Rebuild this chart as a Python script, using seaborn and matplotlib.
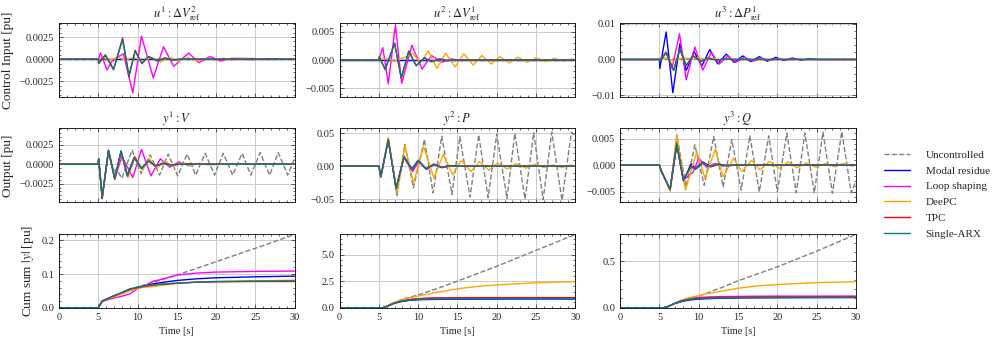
import matplotlib
matplotlib.use("Agg")
import matplotlib.pyplot as plt
from matplotlib.lines import Line2D
from matplotlib.ticker import MultipleLocator, AutoMinorLocator
import seaborn as sns


# ---------------- SERIES / STYLE ----------------
names = ["Uncontrolled", "Modal residue", "Loop shaping", "DeePC", "TPC", "Single-ARX"]
colors = ["#808080", "#0000ff", "#ff00ff", "#ffa500", "#ff0000", "#008080"]
styles = ["--", "-", "-", "-", "-", "-"]

col_titles_u = [r"$u^1: \Delta V_{\mathrm{ref}}^2$", r"$u^2: \Delta V_{\mathrm{ref}}^1$", r"$u^3: \Delta P_{\mathrm{ref}}^1$"]
col_titles_y = [r"$y^1: V$", r"$y^2: P$", r"$y^3: Q$"]
row_labels = ["Control Input [pu]", "Output [pu]", r"Cum sum $|y|$ [pu]"]

zero_t = [0, 30]
zero_v = [0, 0]

# ---------------- u1 ----------------
u1_mag_t = [0, 5.0, 5.3, 5.6, 6.1, 6.7, 7.4, 8.2, 9.4, 10.5, 12.0, 13.3, 14.6, 16.5, 17.8, 19.2, 20.5, 22.0, 30]
u1_mag_v = [0, 0, 0.0007, 0.0, -0.0012, -0.0003, 0.0002, 0.0006, -0.0038, 0.0026, -0.0021, 0.0014, -0.0008, 0.0007, -0.0004, 0.0003, -0.0002, 0.0001, 0]
u1_arx_t = [0, 5.0, 5.05, 5.9, 6.95, 8.1, 8.9, 9.7, 10.55, 11.4, 12.5, 13.5, 14.5, 15.5, 30]
u1_arx_v = [0, 0, -0.0004, 0.0005, -0.0011, 0.0022, -0.0018, 0.0009, -0.0005, 0.0003, -0.0002, 0.00015, -0.0001, 0, 0]
u1_tpc_v = [0, 0, -0.0005, 0.0004, -0.0012, 0.0024, -0.0020, 0.0010, -0.0005, 0.0003, -0.0002, 0.0001, -0.0001, 0, 0]
u1_dee_t = [0, 5.0, 5.6, 6.5, 7.5, 8.4, 9.5, 10.7, 11.8, 12.9, 14.1, 15.2, 16.4, 17.5, 18.7, 19.8, 21.0, 22.1, 23.3, 24.4, 25.6, 26.7, 28.0, 30]
u1_dee_v = [0, 0, 0.0001, -0.0001, 0.0002, -0.0001, 0.0002, -0.0002, 0.0002, -0.0003, 0.0002, -0.0002, 0.0002, -0.0002, 0.0001, -0.0001, 0.0001, -0.0001, 0.0001, -0.0001, 0.00005, -0.00005, 0, 0]

# ---------------- u2 ----------------
u2_mag_t = [0, 5.0, 5.5, 6.2, 7.1, 7.9, 9.2, 10.5, 11.7, 13.0, 14.2, 15.5, 17.0, 30]
u2_mag_v = [0, 0, 0.0022, -0.0042, 0.0061, -0.0041, 0.0026, -0.0016, 0.0008, -0.0004, 0.0002, -0.0001, 0, 0]
u2_arx_t = [0, 5.0, 5.05, 5.8, 7.0, 7.85, 8.8, 9.75, 10.8, 11.7, 12.7, 13.7, 15.0, 30]
u2_arx_v = [0, 0, 0.0005, -0.0016, 0.0029, -0.0031, 0.0015, -0.0010, 0.0004, -0.0003, 0.0002, -0.0001, 0, 0]
u2_tpc_v = [0, 0, 0.0006, -0.0017, 0.0030, -0.0032, 0.0016, -0.0010, 0.0004, -0.0003, 0.0002, -0.0001, 0, 0]
u2_dee_t = [0, 5.0, 5.8, 7.0, 8.2, 9.3, 10.3, 11.3, 12.4, 13.5, 14.7, 15.8, 17.0, 18.1, 19.3, 20.4, 21.6, 22.7, 23.9, 25.0, 26.2, 27.3, 28.5, 29.6, 30]
u2_dee_v = [0, 0, 0.0003, -0.0002, 0.0004, 0.0012, -0.0005, 0.0016, -0.0015, 0.0012, -0.0012, 0.0011, -0.0009, 0.0008, -0.0007, 0.0006, -0.0005, 0.0005, -0.0004, 0.0004, -0.0003, 0.0003, -0.0002, 0.0002, 0]

# ---------------- u3 ----------------
u3_mod_t = [0, 5.0, 5.05, 5.85, 6.7, 7.6, 8.4, 9.4, 10.4, 11.4, 12.4, 13.5, 14.5, 15.6, 16.6, 17.7, 18.7, 19.8, 20.8, 21.9, 23.0, 24.0, 25.5, 30]
u3_mod_v = [0, 0, -0.0025, 0.0077, -0.0093, 0.0044, -0.0031, 0.0022, -0.0018, 0.0028, -0.0012, 0.0015, -0.0008, 0.0010, -0.0006, 0.0008, -0.0005, 0.0006, -0.0003, 0.0004, -0.0002, 0.0002, 0, 0]
u3_mag_t = [0, 5.0, 5.85, 6.6, 7.55, 8.4, 9.5, 10.5, 11.6, 12.6, 13.7, 14.7, 15.8, 16.9, 17.9, 19.0, 20.0, 21.0, 22.0, 23.5, 30]
u3_mag_v = [0, 0, 0.0020, -0.0025, 0.0072, -0.0057, 0.0035, -0.0030, 0.0019, -0.0013, 0.0010, -0.0008, 0.0006, -0.0005, 0.0004, -0.0003, 0.0002, -0.0001, 0.0001, 0, 0]
u3_arx_t = [0, 5.0, 5.05, 5.85, 6.8, 7.6, 8.4, 9.3, 10.3, 11.2, 12.2, 13.2, 14.5, 30]
u3_arx_v = [0, 0, -0.0005, 0.0019, -0.0030, 0.0028, -0.0016, 0.0010, -0.0005, 0.0004, -0.0002, 0.0001, 0, 0]
u3_tpc_v = [0, 0, -0.0006, 0.0020, -0.0031, 0.0029, -0.0017, 0.0010, -0.0005, 0.0004, -0.0002, 0.0001, 0, 0]
u3_dee_t = [0, 5.0, 5.8, 6.8, 7.8, 8.8, 9.8, 10.8, 11.8, 12.8, 14.0, 15.5, 30]
u3_dee_v = [0, 0, 0.0005, -0.0004, 0.0004, 0.0003, 0.0005, 0.0002, 0.0003, -0.0001, 0.0001, 0, 0]

# ---------------- y1 ----------------
y1_unc_t = [0, 5.0, 5.05, 5.5, 6.3, 7.0, 7.3, 8.0, 9.3, 10.45, 11.6, 12.8, 13.9, 15.1, 16.3, 17.4, 18.6, 19.8, 20.9, 22.1, 23.3, 24.4, 25.6, 26.8, 27.9, 29.1, 30]
y1_unc_v = [0, 0, 0.0007, -0.0044, 0.0017, -0.0010, -0.0006, -0.0018, 0.0018, -0.0012, 0.0012, -0.0014, 0.0013, -0.0015, 0.0013, -0.0014, 0.0014, -0.0014, 0.0014, -0.0014, 0.0014, -0.0014, 0.0015, -0.0014, 0.0015, -0.0014, 0.0008]
y1_t = [0, 5.0, 5.05, 5.5, 6.3, 7.1, 7.9, 8.7, 9.6, 10.5, 11.4, 12.3, 13.3, 14.3, 15.5, 17.0, 30]
y1_mod_v = [0, 0, 0.0007, -0.0044, 0.0017, -0.0019, 0.0016, -0.0014, 0.0009, -0.0006, 0.0005, -0.0003, 0.0002, -0.0001, 0.0001, 0, 0]
y1_tpc_v = [0, 0, 0.0007, -0.0043, 0.0018, -0.0019, 0.0017, -0.0015, 0.0009, -0.0005, 0.0004, -0.0002, 0.0001, -0.0001, 0, 0, 0]
y1_arx_v = [0, 0, 0.0007, -0.0042, 0.0018, -0.0018, 0.0017, -0.0015, 0.0008, -0.0005, 0.0004, -0.0002, 0.0001, -0.0001, 0, 0, 0]
y1_dee_t = [0, 5.0, 5.05, 5.5, 6.3, 7.1, 7.9, 8.8, 9.7, 10.6, 11.5, 12.5, 13.5, 14.5, 15.6, 16.7, 17.8, 19.0, 20.5, 30]
y1_dee_v = [0, 0, 0.0007, -0.0042, 0.0017, -0.0019, 0.0015, -0.0017, 0.0010, -0.0008, 0.0007, -0.0005, 0.0004, -0.0003, 0.0002, -0.0002, 0.0001, -0.0001, 0, 0]
y1_mag_t = [0, 5.0, 5.05, 5.5, 6.3, 7.1, 8.0, 9.4, 10.5, 11.7, 12.9, 14.1, 15.3, 16.5, 17.7, 19.0, 30]
y1_mag_v = [0, 0, 0.0007, -0.0042, 0.0017, -0.0019, 0.0010, -0.0017, 0.0019, -0.0015, 0.0007, -0.0004, 0.0003, -0.0002, 0.0001, 0, 0]

# ---------------- y2 ----------------
y2_unc_t = [0, 5.0, 5.25, 6.2, 7.3, 8.3, 9.4, 10.8, 11.9, 13.0, 14.3, 15.3, 16.6, 17.7, 18.9, 20.0, 21.3, 22.3, 23.6, 24.7, 25.9, 27.0, 28.3, 29.5, 30]
y2_unc_v = [0, 0, -0.016, 0.042, -0.046, 0.033, -0.033, 0.041, -0.041, 0.046, -0.043, 0.045, -0.047, 0.048, -0.048, 0.049, -0.049, 0.050, -0.050, 0.051, -0.051, 0.052, -0.052, 0.052, 0.045]
y2_t = [0, 5.0, 5.25, 6.2, 7.2, 8.2, 9.2, 10.0, 11.0, 12.0, 13.0, 14.0, 15.0, 30]
y2_mod_v = [0, 0, -0.016, 0.041, -0.033, 0.015, -0.004, 0.009, -0.004, 0.003, -0.002, 0.001, 0, 0]
y2_tpc_v = [0, 0, -0.016, 0.040, -0.034, 0.014, -0.005, 0.008, -0.004, 0.003, -0.002, 0.001, 0, 0]
y2_arx_v = [0, 0, -0.016, 0.040, -0.034, 0.015, -0.005, 0.009, -0.004, 0.003, -0.002, 0.001, 0, 0]
y2_mag_t = [0, 5.0, 5.25, 6.2, 7.2, 8.2, 9.3, 10.1, 11.1, 12.1, 13.2, 14.3, 15.5, 30]
y2_mag_v = [0, 0, -0.016, 0.041, -0.033, 0.013, -0.008, 0.008, -0.005, 0.003, -0.002, 0.001, 0, 0]
y2_dee_t = [0, 5.0, 5.25, 6.2, 7.3, 8.3, 9.4, 10.7, 12.0, 13.2, 14.4, 15.5, 16.7, 17.8, 19.0, 20.1, 21.3, 22.5, 23.7, 24.8, 26.0, 27.1, 28.3, 29.4, 30]
y2_dee_v = [0, 0, -0.016, 0.044, -0.041, 0.032, -0.026, 0.030, -0.018, 0.018, -0.013, 0.009, -0.008, 0.007, -0.006, 0.005, -0.004, 0.004, -0.003, 0.003, -0.002, 0.002, -0.002, 0.002, 0.0]

# ---------------- y3 ----------------
y3_unc_t = [0, 5.0, 5.2, 6.35, 7.2, 8.4, 9.5, 10.7, 11.9, 13.1, 14.2, 15.4, 16.5, 17.7, 18.9, 20.0, 21.2, 22.4, 23.5, 24.7, 25.8, 27.0, 28.2, 29.4, 30]
y3_unc_v = [0, 0, -0.0010, -0.0047, 0.0057, -0.0041, 0.0038, -0.0038, 0.0054, -0.0041, 0.0048, -0.0047, 0.0055, -0.0050, 0.0055, -0.0050, 0.0060, -0.0052, 0.0060, -0.0052, 0.0062, -0.0053, 0.0063, -0.0052, -0.0030]
y3_t = [0, 5.0, 5.2, 6.35, 7.2, 8.05, 9.0, 9.6, 10.5, 11.5, 12.5, 13.5, 15.0, 30]
y3_mod_v = [0, 0, -0.0010, -0.0047, 0.0038, -0.0030, 0.0002, -0.0006, 0.0006, -0.0003, 0.0002, -0.0001, 0, 0]
y3_tpc_v = [0, 0, -0.0010, -0.0046, 0.0040, -0.0029, -0.0002, -0.0007, 0.0004, -0.0003, 0.0002, -0.0001, 0, 0]
y3_arx_v = [0, 0, -0.0010, -0.0045, 0.0041, -0.0028, -0.0003, -0.0008, 0.0004, -0.0003, 0.0002, -0.0001, 0, 0]
y3_mag_t = [0, 5.0, 5.2, 6.35, 7.2, 8.05, 9.3, 10.0, 11.0, 12.0, 13.0, 14.0, 15.5, 30]
y3_mag_v = [0, 0, -0.0010, -0.0046, 0.0040, -0.0028, -0.0013, 0.0013, -0.0004, 0.0003, -0.0002, 0.0001, 0, 0]
y3_dee_t = [0, 5.0, 5.2, 6.35, 7.2, 8.3, 9.75, 10.8, 12.1, 13.1, 14.4, 15.5, 16.7, 17.8, 19.0, 20.2, 21.4, 22.5, 23.7, 24.9, 26.1, 27.2, 28.4, 29.5, 30]
y3_dee_v = [0, 0, -0.0010, -0.0049, 0.0055, -0.0047, 0.0025, -0.0025, 0.0030, -0.0022, 0.0013, -0.0012, 0.0009, -0.0009, 0.0007, -0.0006, 0.0006, -0.0005, 0.0004, -0.0004, 0.0003, -0.0003, 0.0003, -0.0002, 0]

# ---------------- cumulative sums ----------------
cum_t = [0, 5.0, 5.5, 6, 7, 8, 9, 10, 11, 12, 13, 15, 17.5, 20, 25, 30]
c1_unc = [0, 0, 0.020, 0.025, 0.035, 0.044, 0.054, 0.062, 0.069, 0.076, 0.083, 0.097, 0.117, 0.137, 0.177, 0.218]
c1_mod = [0, 0, 0.020, 0.025, 0.035, 0.044, 0.054, 0.060, 0.066, 0.071, 0.075, 0.081, 0.086, 0.089, 0.092, 0.094]
c1_mag = [0, 0, 0.018, 0.022, 0.029, 0.034, 0.041, 0.057, 0.066, 0.079, 0.084, 0.097, 0.103, 0.106, 0.108, 0.109]
c1_dee = [0, 0, 0.019, 0.024, 0.033, 0.041, 0.050, 0.058, 0.061, 0.063, 0.066, 0.072, 0.076, 0.078, 0.080, 0.082]
c1_tpc = [0, 0, 0.020, 0.025, 0.035, 0.045, 0.055, 0.060, 0.064, 0.067, 0.070, 0.073, 0.076, 0.077, 0.078, 0.078]
c1_arx = [0, 0, 0.020, 0.025, 0.036, 0.045, 0.056, 0.061, 0.065, 0.068, 0.070, 0.073, 0.076, 0.078, 0.079, 0.080]

c2_unc = [0, 0, 0.0, 0.15, 0.50, 0.80, 1.00, 1.20, 1.45, 1.70, 1.95, 2.50, 3.20, 3.90, 5.40, 6.90]
c2_mod = [0, 0, 0.0, 0.13, 0.42, 0.60, 0.70, 0.75, 0.77, 0.78, 0.79, 0.80, 0.81, 0.81, 0.82, 0.82]
c2_mag = [0, 0, 0.0, 0.13, 0.45, 0.65, 0.78, 0.85, 0.89, 0.91, 0.92, 0.94, 0.95, 0.95, 0.95, 0.95]
c2_dee = [0, 0, 0.0, 0.15, 0.50, 0.78, 0.95, 1.10, 1.25, 1.40, 1.52, 1.78, 2.00, 2.15, 2.35, 2.45]
c2_tpc = [0, 0, 0.0, 0.13, 0.45, 0.65, 0.77, 0.84, 0.88, 0.90, 0.91, 0.93, 0.94, 0.94, 0.94, 0.94]
c2_arx = [0, 0, 0.0, 0.13, 0.43, 0.62, 0.72, 0.78, 0.80, 0.81, 0.82, 0.83, 0.84, 0.84, 0.85, 0.85]

c3_unc = [0, 0, 0.0, 0.010, 0.050, 0.090, 0.110, 0.125, 0.155, 0.190, 0.220, 0.290, 0.365, 0.440, 0.610, 0.790]
c3_mod = [0, 0, 0.0, 0.010, 0.045, 0.070, 0.085, 0.092, 0.097, 0.100, 0.102, 0.105, 0.107, 0.108, 0.109, 0.110]
c3_mag = [0, 0, 0.0, 0.010, 0.050, 0.080, 0.100, 0.110, 0.115, 0.118, 0.120, 0.122, 0.124, 0.125, 0.125, 0.126]
c3_dee = [0, 0, 0.0, 0.010, 0.050, 0.085, 0.110, 0.130, 0.150, 0.165, 0.180, 0.210, 0.235, 0.250, 0.270, 0.280]
c3_tpc = [0, 0, 0.0, 0.010, 0.050, 0.078, 0.095, 0.104, 0.108, 0.110, 0.112, 0.114, 0.115, 0.116, 0.116, 0.117]
c3_arx = [0, 0, 0.0, 0.010, 0.048, 0.075, 0.090, 0.098, 0.102, 0.104, 0.105, 0.107, 0.108, 0.109, 0.110, 0.110]


# ---------------- PANEL CONTENTS (order = names) ----------------
panels = [
    [  # row 0: control inputs
        [(zero_t, zero_v), (zero_t, zero_v), (u1_mag_t, u1_mag_v), (u1_dee_t, u1_dee_v), (u1_arx_t, u1_tpc_v), (u1_arx_t, u1_arx_v)],
        [(zero_t, zero_v), (zero_t, zero_v), (u2_mag_t, u2_mag_v), (u2_dee_t, u2_dee_v), (u2_arx_t, u2_tpc_v), (u2_arx_t, u2_arx_v)],
        [(zero_t, zero_v), (u3_mod_t, u3_mod_v), (u3_mag_t, u3_mag_v), (u3_dee_t, u3_dee_v), (u3_arx_t, u3_tpc_v), (u3_arx_t, u3_arx_v)],
    ],
    [  # row 1: outputs
        [(y1_unc_t, y1_unc_v), (y1_t, y1_mod_v), (y1_mag_t, y1_mag_v), (y1_dee_t, y1_dee_v), (y1_t, y1_tpc_v), (y1_t, y1_arx_v)],
        [(y2_unc_t, y2_unc_v), (y2_t, y2_mod_v), (y2_mag_t, y2_mag_v), (y2_dee_t, y2_dee_v), (y2_t, y2_tpc_v), (y2_t, y2_arx_v)],
        [(y3_unc_t, y3_unc_v), (y3_t, y3_mod_v), (y3_mag_t, y3_mag_v), (y3_dee_t, y3_dee_v), (y3_t, y3_tpc_v), (y3_t, y3_arx_v)],
    ],
    [  # row 2: cumulative sums
        [(cum_t, c1_unc), (cum_t, c1_mod), (cum_t, c1_mag), (cum_t, c1_dee), (cum_t, c1_tpc), (cum_t, c1_arx)],
        [(cum_t, c2_unc), (cum_t, c2_mod), (cum_t, c2_mag), (cum_t, c2_dee), (cum_t, c2_tpc), (cum_t, c2_arx)],
        [(cum_t, c3_unc), (cum_t, c3_mod), (cum_t, c3_mag), (cum_t, c3_dee), (cum_t, c3_tpc), (cum_t, c3_arx)],
    ],
]

ylims = [
    [(-0.00427, 0.00408), (-0.0065, 0.0065), (-0.0105, 0.0102)],
    [(-0.0049, 0.0046), (-0.0551, 0.0577), (-0.0070, 0.0069)],
    [(0, 0.22), (0, 6.96), (0, 0.797)],
]
ysteps = [[0.0025, 0.005, 0.01], [0.0025, 0.05, 0.005], [0.1, 2.5, 0.5]]


# ---------------- THEME ----------------
sns.set_theme(style="ticks")
plt.rcParams["font.family"] = ["Liberation Serif", "DejaVu Serif"]
plt.rcParams["mathtext.fontset"] = "stix"
plt.rcParams["axes.linewidth"] = 0.6
plt.rcParams["axes.edgecolor"] = "black"


# ---------------- PLOT ----------------
fig, axes = plt.subplots(3, 3, figsize=(9.96, 3.39), dpi=100)
fig.subplots_adjust(left=0.0592, right=0.8594, top=0.932, bottom=0.0923, wspace=0.19, hspace=0.425)

for r in range(3):
    for c in range(3):
        ax = axes[r, c]
        for k, (tt, vv) in enumerate(panels[r][c]):
            sns.lineplot(x=tt, y=vv, ax=ax, color=colors[k], linestyle=styles[k],
                         linewidth=1.0, legend=False, estimator=None, sort=False)
        ax.set_xlim(0, 30)
        ax.set_ylim(*ylims[r][c])
        ax.xaxis.set_major_locator(MultipleLocator(5))
        ax.yaxis.set_major_locator(MultipleLocator(ysteps[r][c]))
        ax.xaxis.set_minor_locator(AutoMinorLocator())
        ax.yaxis.set_minor_locator(AutoMinorLocator())
        ax.tick_params(which="both", direction="in", top=True, right=True, labelsize=7.5, width=0.5)
        ax.tick_params(which="major", length=3)
        ax.tick_params(which="minor", length=1.5)
        ax.grid(True, which="major", color="#c4c4c4", linewidth=0.6)
        ax.set_axisbelow(True)
        ax.set_xlabel("")
        ax.set_ylabel("")
        if r < 2:
            ax.tick_params(labelbottom=False)
        else:
            ax.set_xlabel("Time [s]", fontsize=7.5)
        if c == 0:
            ax.set_ylabel(row_labels[r], fontsize=9.5)
        if r == 0:
            ax.set_title(col_titles_u[c], fontsize=9, pad=4)
        elif r == 1:
            ax.set_title(col_titles_y[c], fontsize=9, pad=4)

handles = [Line2D([0], [0], color=colors[k], linestyle=styles[k], linewidth=1.0) for k in range(len(names))]
fig.legend(handles, names, loc="center left", bbox_to_anchor=(0.878, 0.4263), frameon=False,
           fontsize=8, handlelength=2.3, handletextpad=1.4, labelspacing=0.55)

plt.savefig("out.png", dpi=100)
plt.close()
